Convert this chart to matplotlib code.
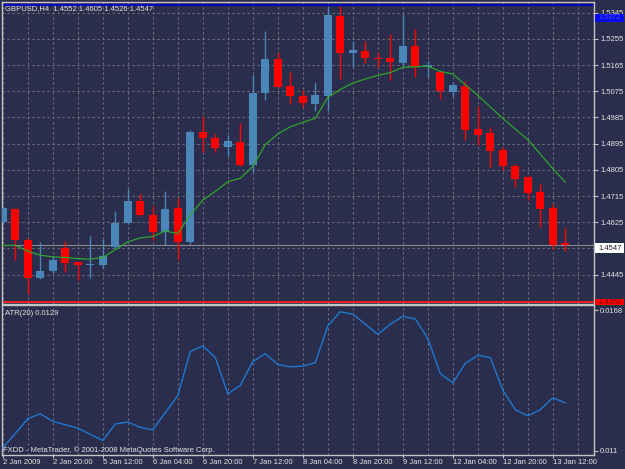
import matplotlib
matplotlib.use('Agg')
import matplotlib.pyplot as plt
from matplotlib.patches import Rectangle
from matplotlib.transforms import Bbox
import numpy as np

# ---------------- data ----------------
header = "GBPUSD,H4  1.4552 1.4605 1.4526 1.4547"
atr_title = "ATR(20) 0.0129"
copyright_text = "FXDD - MetaTrader, \u00a9 2001-2008 MetaQuotes Software Corp."

opens = [1.4625, 1.4671, 1.4563, 1.4435, 1.4457, 1.4535, 1.4488, 1.4477, 1.4479, 1.4541,
         1.4623, 1.4698, 1.4649, 1.4592, 1.4673, 1.4556, 1.4935, 1.4915, 1.4882, 1.4901,
         1.4823, 1.5069, 1.5187, 1.5094, 1.5058, 1.5031, 1.5058, 1.5334, 1.5205, 1.5214,
         1.5190, 1.5189, 1.5172, 1.5231, 1.5158, 1.5141, 1.5074, 1.5094, 1.4944, 1.4930,
         1.4873, 1.4819, 1.4781, 1.4729, 1.4673, 1.4552]
highs = [1.4680, 1.4675, 1.4570, 1.4557, 1.4510, 1.4560, 1.4490, 1.4577, 1.4569, 1.4665,
         1.4739, 1.4721, 1.4680, 1.4733, 1.4707, 1.4942, 1.4989, 1.4927, 1.4925, 1.4967,
         1.5129, 1.5283, 1.5208, 1.5141, 1.5079, 1.5108, 1.5367, 1.5369, 1.5247, 1.5249,
         1.5211, 1.5270, 1.5340, 1.5288, 1.5180, 1.5143, 1.5107, 1.5111, 1.5025, 1.4953,
         1.4884, 1.4824, 1.4785, 1.4758, 1.4687, 1.4605]
lows = [1.4618, 1.4496, 1.4378, 1.4431, 1.4449, 1.4455, 1.4427, 1.4433, 1.4467, 1.4535,
        1.4618, 1.4647, 1.4565, 1.4548, 1.4497, 1.4551, 1.4865, 1.4866, 1.4853, 1.4817,
        1.4799, 1.5045, 1.5089, 1.5031, 1.5021, 1.5007, 1.5007, 1.5117, 1.5157, 1.5172,
        1.5157, 1.5115, 1.5163, 1.5124, 1.5124, 1.5049, 1.5055, 1.4908, 1.4889, 1.4815,
        1.4803, 1.4745, 1.4703, 1.4607, 1.4532, 1.4526]
closes = [1.4673, 1.4565, 1.4435, 1.4457, 1.4495, 1.4486, 1.4477, 1.4482, 1.4510, 1.4623,
          1.4698, 1.4651, 1.4593, 1.4671, 1.4556, 1.4935, 1.4914, 1.4880, 1.4903, 1.4823,
          1.5070, 1.5187, 1.5090, 1.5058, 1.5034, 1.5063, 1.5337, 1.5205, 1.5217, 1.5189,
          1.5187, 1.5175, 1.5232, 1.5157, 1.5164, 1.5075, 1.5098, 1.4943, 1.4925, 1.4871,
          1.4817, 1.4775, 1.4727, 1.4671, 1.4548, 1.4547]
ma_values = [1.4545, 1.4546, 1.4525, 1.4512, 1.4506, 1.4504, 1.4500, 1.4498, 1.4504, 1.4531,
             1.4558, 1.4571, 1.4576, 1.4595, 1.4586, 1.4650, 1.4701, 1.4731, 1.4764, 1.4776,
             1.4817, 1.4892, 1.4928, 1.4953, 1.4968, 1.4982, 1.5054, 1.5081, 1.5103, 1.5117,
             1.5129, 1.5139, 1.5157, 1.5159, 1.5161, 1.5143, 1.5134, 1.5097, 1.5061, 1.5021,
             1.4982, 1.4945, 1.4909, 1.4859, 1.4809, 1.4763]
atr_values = [0.01111, 0.01171, 0.01232, 0.01252, 0.01221, 0.01207, 0.01193, 0.01167, 0.01142, 0.01210,
              0.01218, 0.01196, 0.01186, 0.01257, 0.01327, 0.01509, 0.01532, 0.01484, 0.01335, 0.01369,
              0.01468, 0.01500, 0.01455, 0.01446, 0.01449, 0.01463, 0.01615, 0.01673, 0.01663, 0.01622,
              0.01580, 0.01622, 0.01654, 0.01643, 0.01563, 0.01418, 0.01380, 0.01460, 0.01493, 0.01484,
              0.01349, 0.01269, 0.01244, 0.01269, 0.01318, 0.01297]
xtick_labels = ["2 Jan 2009", "2 Jan 20:00", "5 Jan 12:00", "6 Jan 04:00", "6 Jan 20:00",
                "7 Jan 12:00", "8 Jan 04:00", "8 Jan 20:00", "9 Jan 12:00", "12 Jan 04:00",
                "12 Jan 20:00", "13 Jan 12:00"]
price_ticks = [1.4445, 1.4535, 1.4625, 1.4715, 1.4805, 1.4895, 1.4985, 1.5075, 1.5165, 1.5255, 1.5345]
atr_ticks = [0.011, 0.0168]
high_line = 1.5372
low_line = 1.4350
last_price = 1.4547

# ---------------- style ----------------
W, H = 625, 469
BG = '#2a2d4b'
GRID = '#70707a'
FRAME = '#c4c4c4'
TXT = '#e6e6e6'
UP = '#4a86b8'
DN = '#ff0000'
FONT = 'Liberation Sans'
FS = 5.5

plt.rcParams['font.family'] = [FONT, 'DejaVu Sans']

fig = plt.figure(figsize=(W / 100, H / 100), dpi=100, facecolor=BG)


def rect(x0, y0, x1, y1):
    return [x0 / W, 1 - y1 / H, (x1 - x0) / W, (y1 - y0) / H]


ax = fig.add_axes(rect(2, 2, 594, 304))
ax2 = fig.add_axes(rect(2, 305, 594, 454.5))

n = len(opens)
x = np.arange(n)
xlim = (-0.064, 47.296)

for a in (ax, ax2):
    a.set_facecolor(BG)
    a.set_xlim(*xlim)
    for s in a.spines.values():
        s.set_color(FRAME)
        s.set_linewidth(1.0)
    for gx in range(0, 48, 2):
        a.axvline(gx, color=GRID, lw=0.8, ls=(0, (2, 2.5)), zorder=0)

# main price panel
ax.set_ylim(1.43442, 1.53814)
for p in price_ticks:
    ax.axhline(p, color=GRID, lw=0.8, ls=(0, (2, 2.5)), zorder=0)

# candles
bw = 0.64
for i in range(n):
    o, h, l, c = opens[i], highs[i], lows[i], closes[i]
    col = UP if c >= o else DN
    ax.vlines(x[i], l, h, color=col, lw=1.0, zorder=3)
    bot = min(o, c)
    ht = max(abs(c - o), 0.0004)
    if abs(c - o) < 0.0004:
        bot = (o + c) / 2 - 0.0002
    ax.bar(x[i], ht, bottom=bot, width=bw, color=col, lw=0, zorder=4)

ax.plot(x, ma_values, color='#2fa52f', lw=0.9, zorder=5)

ax.axhline(high_line, color='#0000d0', lw=1.3, zorder=2)
ax.axhline(low_line, color='#ff2020', lw=1.3, zorder=2)
ax.axhline(last_price, color='#8a8a8a', lw=0.8, zorder=2)

ax.yaxis.tick_right()
ax.set_yticks(price_ticks)
ax.set_yticklabels(["%.4f" % p for p in price_ticks])
ax.tick_params(axis='y', direction='out', length=3, width=0.8, color=FRAME,
               labelsize=FS, labelcolor=TXT, pad=1.5)
ax.set_xticks([])

# ATR panel
ax2.set_ylim(0.010842, 0.017008)
ax2.plot(x, atr_values, color='#1e78d2', lw=1.0, zorder=4)
ax2.yaxis.tick_right()
ax2.set_yticks(atr_ticks)
ax2.set_yticklabels(["0.011", "0.0168"])
ax2.tick_params(axis='y', direction='out', length=3, width=0.8, color=FRAME,
                labelsize=FS, labelcolor=TXT, pad=1.5)
ax2.set_xticks(list(range(0, 48, 4)))
ax2.set_xticklabels(xtick_labels, ha='left')
ax2.tick_params(axis='x', direction='out', length=2, width=0.8, color=FRAME,
                labelsize=FS, labelcolor=TXT, pad=1.5)


def fig_box(x0, y0, x1, y1, fc):
    fig.add_artist(Rectangle((x0 / W, 1 - y1 / H), (x1 - x0) / W, (y1 - y0) / H,
                             transform=fig.transFigure, facecolor=fc, edgecolor='none', zorder=10))


def box_text(x0, y0, x1, y1, yc, s, color, fs=FS):
    t = fig.text(598 / W, 1 - yc / H, s, color=color, fontsize=fs,
                 va='center', ha='left', zorder=11)
    t.set_clip_box(Bbox([[x0, H - y1], [x1, H - y0]]))
    t.set_clip_on(True)
    return t


# price labels on axis
fig_box(595, 14, 624, 22, '#0a0af0')
box_text(595, 14, 624, 22, 17.6, "%.4f" % high_line, '#4a4aff', fs=5.2)
fig_box(595, 243, 623.5, 253, '#ffffff')
box_text(595, 243, 623.5, 253, 248, "%.4f" % last_price, '#222222')
fig_box(595, 299, 624, 305, '#ff0000')
box_text(595, 299, 624, 305, 303, "%.4f" % low_line, '#800000')

# texts
fig.text(5 / W, 1 - 8.3 / H, header, color=TXT, fontsize=FS, va='center', ha='left')
fig.text(5 / W, 1 - 313.8 / H, atr_title, color=TXT, fontsize=FS, va='center', ha='left')
fig.text(3 / W, 1 - 449.7 / H, copyright_text, color=TXT, fontsize=FS, va='center', ha='left')

fig.savefig('out.png', dpi=100, facecolor=BG)
